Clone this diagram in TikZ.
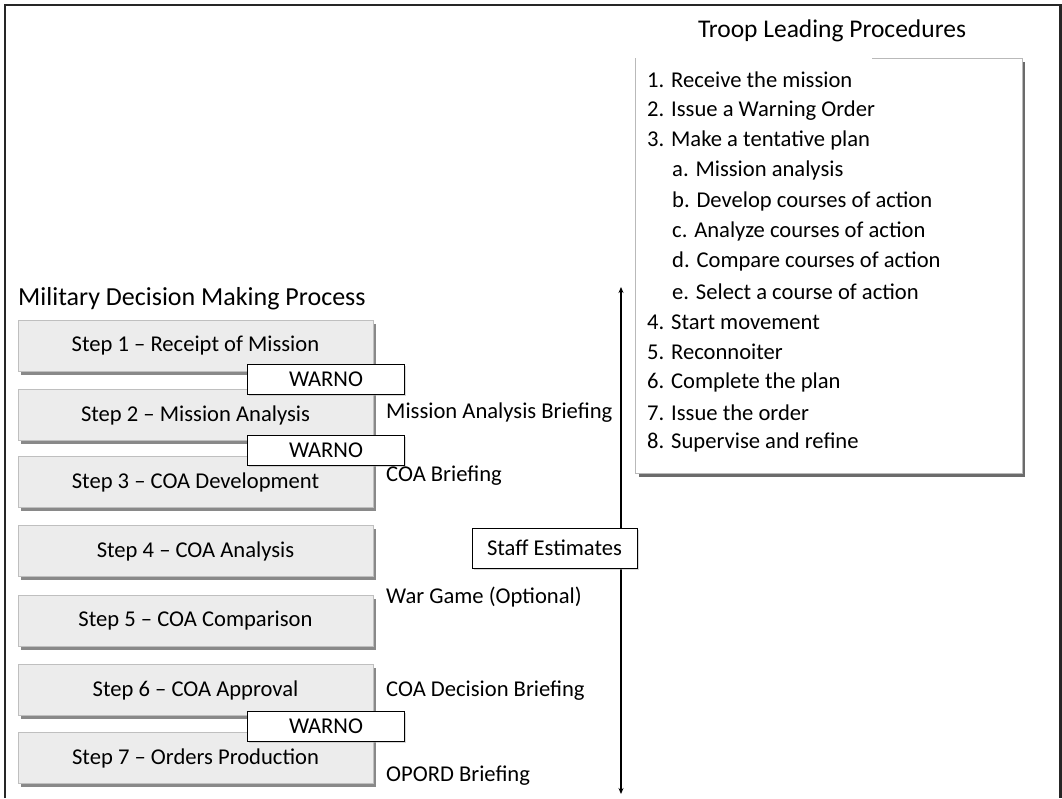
\documentclass[tikz,border=0pt]{standalone}
\usepackage{fontspec}
\setmainfont{Carlito}
\usetikzlibrary{shadows, arrows.meta}

\tikzset{
  stepbox/.style={draw=gray!50, fill=gray!15, minimum width=355pt, minimum height=51pt,
    inner sep=0pt, drop shadow={shadow xshift=3pt, shadow yshift=-3.5pt, fill=gray!85!black, opacity=0.8}},
  warnobox/.style={draw=black, fill=white, minimum width=157pt, minimum height=30pt,
    inner sep=0pt, drop shadow={shadow xshift=1.5pt, shadow yshift=-1.5pt, fill=gray!60}},
  brieflabel/.style={anchor=west, inner sep=0pt},
  tlpitem/.style={anchor=west, inner sep=0pt}
}

\begin{document}
\begin{tikzpicture}[x=1pt, y=-1pt, font=\fontsize{22.6}{26}\selectfont]
        \useasboundingbox (0,0) rectangle (1062,798);

        % Outer frame (no bottom edge)
        \draw[line width=2.2pt, black!85] (5,798) -- (5,5) -- (1060.5,5) -- (1060.5,798);

        % Troop leading procedures box
        \node (tlptitle) at (832,31) {\fontsize{25.5}{30}\selectfont Troop Leading Procedures};
        \fill[gray!55!black, opacity=0.8] (639,62) rectangle (1025,477);
        \node[draw=gray!55, fill=white, minimum width=387pt, minimum height=415pt, inner sep=0pt]
          (tlpbox) at (828.5,265.5) {};
        \draw[white, line width=1.5pt] (636,58.4) -- (872,58.4);

        % List items
        \foreach \txt/\ind [count=\i] in {
          1. Receive the mission/0,
          2. Issue a Warning Order/0,
          3. Make a tentative plan/0,
          a. Mission analysis/1,
          b. Develop courses of action/1,
          c. Analyze courses of action/1,
          d. Compare courses of action/1,
          e. Select a course of action/1,
          4. Start movement/0,
          5. Reconnoiter/0,
          6. Complete the plan/0,
          7. Issue the order/0,
          8. Supervise and refine/0}
          \node[tlpitem] (item\i) at (647+25*\ind, 50+30.2*\i) {\txt};

        % Military decision making process
        \node[anchor=west, inner sep=0pt] (mdmptitle) at (18,299) {\fontsize{26}{30}\selectfont Military Decision Making Process};

        \node[stepbox] (step1) at (195.5,346) {Step 1 -- Receipt of Mission};
        \node[stepbox] (step2) at (195.5,415) {Step 2 -- Mission Analysis};
        \node[stepbox] (step3) at (195.5,482) {Step 3 -- COA Development};
        \node[stepbox] (step4) at (195.5,551) {Step 4 -- COA Analysis};
        \node[stepbox] (step5) at (195.5,621) {Step 5 -- COA Comparison};
        \node[stepbox] (step6) at (195.5,690) {Step 6 -- COA Approval};
        \node[stepbox] (step7) at (195.5,758) {Step 7 -- Orders Production};

        % Warning orders between steps
        \node[warnobox] (warno1) at (326,379) {WARNO};
        \node[warnobox] (warno2) at (326,450) {WARNO};
        \node[warnobox] (warno3) at (326,726) {WARNO};

        % Briefings
        \node[brieflabel] (brief1) at (386,413) {Mission Analysis Briefing};
        \node[brieflabel] (brief2) at (386,476) {COA Briefing};
        \node[brieflabel] (brief3) at (386,597) {War Game (Optional)};
        \node[brieflabel] (brief4) at (386,691) {COA Decision Briefing};
        \node[brieflabel] (brief5) at (386,776) {OPORD Briefing};

        % Staff estimates run the whole way
        \coordinate (arrtop) at (621,287);
        \coordinate (arrbot) at (621,794);
        \draw[line width=1.3pt, {Stealth[length=6pt,width=5pt]}-{Stealth[length=6pt,width=5pt]}] (arrtop) -- (arrbot);
        \node[draw=black, fill=white, minimum width=165pt, minimum height=40pt, inner sep=0pt,
          drop shadow={shadow xshift=1.5pt, shadow yshift=-1.5pt, fill=gray!60}]
          (staff) at (554.5,548) {Staff Estimates};

    \end{tikzpicture}
\end{document}
